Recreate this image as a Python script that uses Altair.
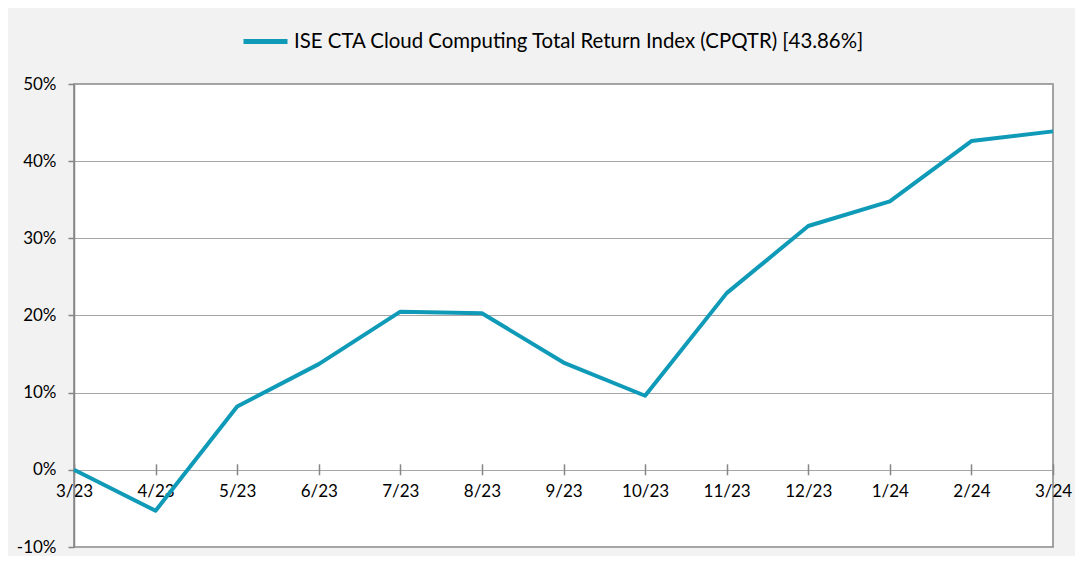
import altair as alt
import pandas as pd

months = ["3/23", "4/23", "5/23", "6/23", "7/23", "8/23", "9/23", "10/23",
          "11/23", "12/23", "1/24", "2/24", "3/24"]
returns = [0.0, -0.053, 0.082, 0.137, 0.205, 0.203, 0.139, 0.096,
           0.229, 0.316, 0.348, 0.426, 0.4386]
series_name = "ISE CTA Cloud Computing Total Return Index (CPQTR) [43.86%]"

df = pd.DataFrame({"month": months, "ret": returns, "series": series_name})

LINE = "#0f9ab8"
AXIS = "#868686"
GRID = "#a6a6a6"
FONT = "Lato"

chart = alt.Chart(df).mark_line(strokeWidth=4, strokeJoin="round").encode(
    x=alt.X("month:N", sort=months, title=None,
            scale=alt.Scale(type="point", padding=0),
            axis=alt.Axis(labelAngle=0, domain=False, grid=False,
                          tickSize=11, tickColor=AXIS, tickWidth=1.5,
                          offset=-83.2, labelPadding=9, labelFontSize=17,
                          labelColor="#000000", labelFont=FONT,
                          labelOverlap=False, labelBound=False, labelFlush=False)),
    y=alt.Y("ret:Q", title=None,
            scale=alt.Scale(domain=[-0.1, 0.5], nice=False, zero=False),
            axis=alt.Axis(values=[-0.1, 0, 0.1, 0.2, 0.3, 0.4, 0.5], format=".0%",
                          labelExpr="replace(datum.label, '\u2212', '-')",
                          grid=True, gridColor=GRID, gridWidth=1.2,
                          domainColor=AXIS, domainWidth=1.5,
                          tickColor=AXIS, tickWidth=1.5, tickSize=6,
                          labelPadding=12, labelFontSize=17, labelColor="#000000",
                          labelFont=FONT)),
    color=alt.Color("series:N", title=None,
                    scale=alt.Scale(range=[LINE]),
                    legend=alt.Legend(orient="none", legendX=167, legendY=-67,
                                      symbolType="stroke", symbolSize=1936,
                                      symbolStrokeWidth=5, symbolStrokeColor=LINE,
                                      labelFontSize=20.4, labelFont=FONT,
                                      labelColor="#000000", labelOffset=4,
                                      padding=0, labelLimit=1000)),
).properties(
    width=979, height=463,
    autosize=alt.AutoSizeParams(type="none"),
    padding={"left": 66, "top": 76, "right": 22, "bottom": 9},
    background="#f2f2f2",
).configure_view(
    stroke=AXIS, strokeWidth=1.5, fill="#ffffff"
)

chart.save("out.html", embed_options={"renderer": "svg", "actions": False})
